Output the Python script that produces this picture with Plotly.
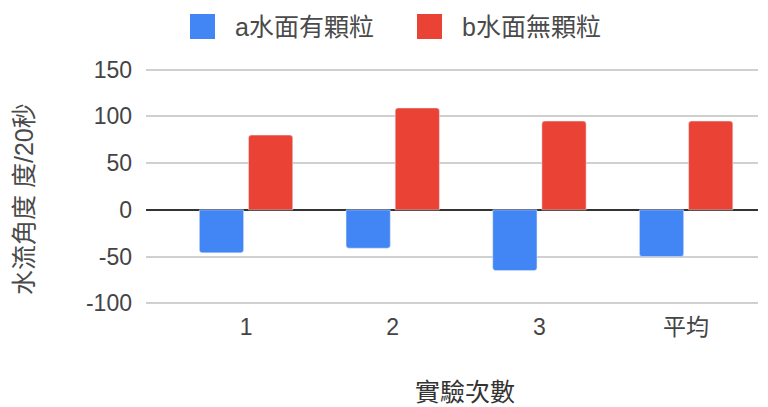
import plotly.graph_objects as go

categories = ["1", "2", "3", "平均"]
series_a_name = "a水面有顆粒"
series_b_name = "b水面無顆粒"
series_a = [-46, -41, -65, -50]
series_b = [80, 109, 95, 95]
y_ticks = [-100, -50, 0, 50, 100, 150]
y_tick_text = ["-100", "-50", "0", "50", "100", "150"]
y_title = "水流角度 度/20秒"
x_title = "實驗次數"

W, H = 768, 407
L, R, T, B = 146, 10, 65, 99
PW, PH = W - L - R, H - T - B

def px_x(p):
    return (p - L) / PW

def px_y(p):
    return (H - B - p) / PH

BLUE = "#4285F4"
RED = "#EA4335"
FONT = "Liberation Sans, Noto Sans CJK TC, sans-serif"

fig = go.Figure()
fig.add_trace(go.Bar(x=list(range(len(categories))), y=series_a, name=series_a_name,
                     marker_color=BLUE, showlegend=False))
fig.add_trace(go.Bar(x=list(range(len(categories))), y=series_b, name=series_b_name,
                     marker_color=RED, showlegend=False))

shapes = []
annotations = []
# custom legend
for (x0, name, col) in [(190, series_a_name, BLUE), (417, series_b_name, RED)]:
    shapes.append(dict(type="rect", xref="paper", yref="paper",
                       x0=px_x(x0), x1=px_x(x0 + 25), y0=px_y(14), y1=px_y(39),
                       fillcolor=col, line=dict(width=0)))
    annotations.append(dict(xref="paper", yref="paper", x=px_x(x0 + 43), y=px_y(27),
                            xanchor="left", yanchor="middle", showarrow=False,
                            text=name, font=dict(size=25, color="#4a4a4a", family=FONT)))

annotations.append(dict(xref="paper", yref="paper", x=px_x(24), y=px_y(199),
                        xanchor="center", yanchor="middle", showarrow=False, textangle=-90,
                        text=y_title, font=dict(size=25, color="#4a4a4a", family=FONT)))
annotations.append(dict(xref="paper", yref="paper", x=px_x(465), y=px_y(392),
                        xanchor="center", yanchor="middle", showarrow=False,
                        text=x_title, font=dict(size=25, color="#333", family=FONT)))

fig.update_layout(
    width=W, height=H,
    margin=dict(l=L, r=R, t=T, b=B, pad=0),
    paper_bgcolor="white", plot_bgcolor="white",
    barmode="group", bargap=0.33, bargroupgap=0.1, barcornerradius=3,
    showlegend=False,
    shapes=shapes, annotations=annotations,
    font=dict(family=FONT, size=23, color="#444"),
)
fig.update_xaxes(
    range=[-0.682, 3.49],
    tickmode="array", tickvals=list(range(len(categories))), ticktext=categories,
    showgrid=False, zeroline=False, showline=False, ticks="",
    ticklabelstandoff=3,
    tickfont=dict(size=23, color="#444", family=FONT),
)
fig.update_yaxes(
    range=[-105, 155],
    tickmode="array", tickvals=y_ticks, ticktext=y_tick_text,
    showgrid=True, gridcolor="#d0d0d0", gridwidth=1.5,
    zeroline=True, zerolinecolor="#333", zerolinewidth=1.5,
    showline=False, ticks="",
    ticklabelstandoff=13,
    tickfont=dict(size=23, color="#444", family=FONT),
)

fig.write_html("out.html")
